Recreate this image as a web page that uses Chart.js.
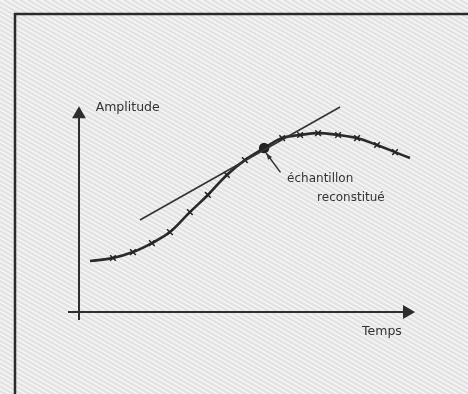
<!DOCTYPE html>
<html>
<head>
<meta charset="utf-8">
<script src="https://cdn.jsdelivr.net/npm/chart.js@4"></script>
<style>
  body { margin: 0; background: #fff; }
  canvas { display: block; }
</style>
</head>
<body>
<canvas id="sampleChart" width="468" height="394"></canvas>
<script>
var sampleTimes  = [3.3, 10.2, 16.2, 21.9, 27.3, 33.3, 38.7, 44.4, 49.8, 55.6, 61.0, 66.4, 71.8, 77.8, 83.5, 89.5, 94.9, 99.4];
var sampleValues = [25.0, 26.5, 29.4, 33.8, 39.2, 49.0, 57.4, 67.2, 74.5, 80.4, 85.3, 86.8, 87.7, 86.8, 85.3, 81.9, 78.4, 75.5];
var reconIndex = 9; // the reconstructed sample (big dot)

// tangent through the reconstructed sample
var tangentTimes  = [18.3, 78.4];
var tangentValues = [45.1, 100.5];

// axis ends
var xAxisTimes = [-3.3, 98.5];
var yAxisValues = [-3.9, 97];

var axisTitleX = 'Temps';
var axisTitleY = 'Amplitude';
var noteLines = ['échantillon', 'reconstitué'];

function pts(xs, ys) {
  return xs.map(function (x, i) { return { x: x, y: ys[i] }; });
}

var curvePts = pts(sampleTimes, sampleValues);
var curveStyles = sampleTimes.map(function (t, i) {
  if (i === reconIndex) return 'circle';
  if (i === 0 || i === sampleTimes.length - 1) return false;
  return 'crossRot';
});
var curveRadius = sampleTimes.map(function (t, i) { return i === reconIndex ? 4.5 : 4; });

// paper texture + frame
var paper = {
  id: 'paper',
  beforeDraw: function (chart) {
    var c = chart.ctx;
    c.save();
    c.fillStyle = '#f4f4f4';
    c.fillRect(0, 0, chart.width, chart.height);
    c.strokeStyle = 'rgba(205,205,205,0.5)';
    c.lineWidth = 2;
    for (var k = -900; k < 500; k += 8) {
      c.beginPath();
      c.moveTo(k, 0);
      c.lineTo(k + 700, 400);
      c.stroke();
    }
    c.strokeStyle = '#2b2b2b';
    c.lineWidth = 2.5;
    c.beginPath();
    c.moveTo(15, chart.height);
    c.lineTo(15, 14);
    c.lineTo(chart.width, 14);
    c.stroke();
    c.restore();
  },
  afterDatasetsDraw: function (chart) {
    var c = chart.ctx, xs = chart.scales.x, ys = chart.scales.y;
    c.save();
    c.fillStyle = '#333';
    c.font = '12.5px "DejaVu Sans"';
    c.textBaseline = 'middle';
    c.fillText(axisTitleY, xs.getPixelForValue(5), ys.getPixelForValue(100));
    c.fillText(axisTitleX, xs.getPixelForValue(85), ys.getPixelForValue(-9.5));
    c.font = '12px "DejaVu Sans"';
    c.fillText(noteLines[0], xs.getPixelForValue(62.5), ys.getPixelForValue(65.5));
    c.fillText(noteLines[1], xs.getPixelForValue(71.5), ys.getPixelForValue(56));
    // little arrow from the note to the dot
    var tx = xs.getPixelForValue(sampleTimes[reconIndex]), ty = ys.getPixelForValue(sampleValues[reconIndex]);
    var fx = xs.getPixelForValue(60.5), fy = ys.getPixelForValue(68.5);
    c.strokeStyle = '#333';
    c.lineWidth = 1.5;
    c.beginPath();
    c.moveTo(fx, fy);
    c.lineTo(tx + 2, ty + 5);
    c.stroke();
    var a = Math.atan2(ty + 5 - fy, tx + 2 - fx);
    c.beginPath();
    c.moveTo(tx + 2, ty + 5);
    c.lineTo(tx + 2 - 7 * Math.cos(a - 0.35), ty + 5 - 7 * Math.sin(a - 0.35));
    c.lineTo(tx + 2 - 7 * Math.cos(a + 0.35), ty + 5 - 7 * Math.sin(a + 0.35));
    c.closePath();
    c.fill();
    c.restore();
  }
};

var ctx = document.getElementById('sampleChart').getContext('2d');
var myChart = new Chart(ctx, {
  type: 'scatter',
  data: {
    datasets: [{
      label: 'x axis',
      data: pts(xAxisTimes, [0, 0]),
      showLine: true,
      borderColor: '#2e2e2e',
      backgroundColor: '#2e2e2e',
      borderWidth: 2,
      pointStyle: [false, 'triangle'],
      rotation: 90,
      pointRadius: [0, 6],
      clip: false
    }, {
      label: 'y axis',
      data: pts([0, 0], yAxisValues),
      showLine: true,
      borderColor: '#2e2e2e',
      backgroundColor: '#2e2e2e',
      borderWidth: 2,
      pointStyle: [false, 'triangle'],
      pointRadius: [0, 6],
      clip: false
    }, {
      label: 'tangente',
      data: pts(tangentTimes, tangentValues),
      showLine: true,
      borderColor: '#333',
      borderWidth: 1.6,
      pointRadius: 0,
      clip: false
    }, {
      label: 'signal',
      data: curvePts,
      showLine: true,
      tension: 0.4,
      borderColor: '#2a2a2a',
      backgroundColor: '#222',
      borderWidth: 2.6,
      pointStyle: curveStyles,
      pointRadius: curveRadius,
      pointBorderColor: '#222',
      pointBorderWidth: 1.5,
      clip: false
    }]
  },
  options: {
    responsive: false,
    animation: false,
    layout: { padding: { left: 68, right: 56, top: 104, bottom: 74 } },
    scales: {
      x: { type: 'linear', min: -3.3, max: 100, display: false },
      y: { type: 'linear', min: -3.9, max: 102, display: false }
    },
    plugins: {
      legend: { display: false },
      tooltip: { enabled: false }
    }
  },
  plugins: [paper]
});
</script>
</body>
</html>
